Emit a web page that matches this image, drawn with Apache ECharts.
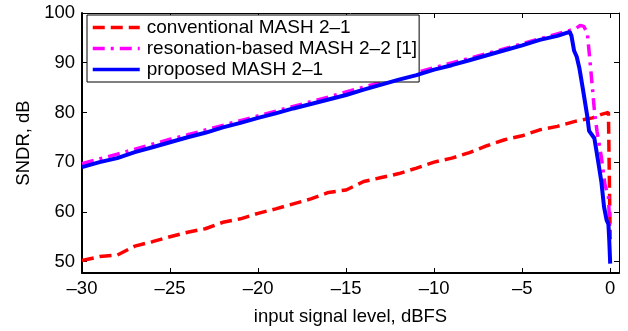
<!DOCTYPE html>
<html>
<head>
<meta charset="utf-8">
<script src="https://cdn.jsdelivr.net/npm/echarts@6/dist/echarts.min.js"></script>
<style>
	html, body { margin: 0; padding: 0; background: #fff; }
	#chart { width: 628px; height: 331px; }
</style>
</head>
<body>
<div id="chart"></div>
<script>
// series names
const seriesNames = ['conventional MASH 2–1', 'resonation-based MASH 2–2 [1]', 'proposed MASH 2–1']

// conventional MASH 2-1 (red dashed), [input dBFS, SNDR dB]
const conventional = [
	[-30, 50.2], [-29, 51.0], [-28, 51.3], [-27, 53.1], [-26, 54.0], [-25, 55.0],
	[-24, 55.9], [-23, 56.6], [-22, 57.9], [-21, 58.6], [-20, 59.7], [-19, 60.6],
	[-18, 61.6], [-17, 62.6], [-16, 63.9], [-15, 64.4], [-14, 66.1], [-13, 66.9],
	[-12, 67.7], [-11, 68.8], [-10, 70.0], [-9, 70.8], [-8, 71.9], [-7, 73.3],
	[-6, 74.5], [-5, 75.3], [-4, 76.5], [-3, 77.2], [-2, 78.2], [-1, 78.9],
	[-0.5, 79.6], [-0.1, 80.0], [0, 79.6], [0, 54.5],
]

// resonation-based MASH 2-2 [1] (magenta dash-dot)
const resonation = [
	[-30, 69.7], [-28, 71.6], [-26, 73.6], [-25, 74.6], [-24, 75.5], [-22, 77.4],
	[-20, 79.3], [-18, 81.2], [-16, 83.1], [-15, 84.1], [-14, 85.1], [-12, 87.0],
	[-10, 89.0], [-8, 90.9], [-6, 92.8], [-5, 93.8], [-4, 94.8], [-3, 95.8],
	[-2, 96.8], [-1.7, 97.5], [-1.5, 97.3], [-1.3, 96.0], [-1.1, 88.5], [-0.9, 80.5],
	[-0.75, 76.2], [-0.5, 71.0], [-0.3, 65.5], [-0.1, 63.0], [0, 55.0],
]

// proposed MASH 2-1 (blue solid)
const proposed = [
	[-30, 69.0], [-29, 70.0], [-28, 70.8], [-27, 72.0], [-26, 73.0], [-25, 74.0],
	[-24, 75.0], [-23, 75.9], [-22, 77.0], [-21, 77.9], [-20, 78.9], [-19, 79.8],
	[-18, 80.8], [-17, 81.7], [-16, 82.6], [-15, 83.5], [-14, 84.6], [-13, 85.6],
	[-12, 86.6], [-11, 87.5], [-10, 88.6], [-9, 89.5], [-8, 90.5], [-7, 91.5],
	[-6, 92.5], [-5, 93.5], [-4, 94.6], [-3, 95.4], [-2.3, 96.2], [-2.2, 95.4],
	[-2.05, 92.4], [-1.9, 91.2], [-1.75, 88.9], [-1.55, 84.7], [-1.3, 79.2],
	[-1.2, 76.3], [-0.9, 74.8], [-0.7, 70.5], [-0.5, 66.0], [-0.35, 61.0],
	[-0.2, 58.3], [-0.1, 57.5], [-0.05, 54.0], [0, 49.6],
]

// axis ranges and ticks
const xRange = [-30, 0.5]
const yRange = [47.7, 100]
const xTickStep = 5
const yTickStep = 10

const font = '"Liberation Sans", Arial, Helvetica, sans-serif'
const dash = (v) => String(v).replace('-', '–')

const xLabel = (v) => (Math.abs(v % xTickStep) < 1e-6 ? dash(v) : '')
const yLabel = (v) => (Math.abs(v % yTickStep) < 1e-6 ? String(v) : '')

const chart = echarts.init(document.getElementById('chart'))

const baseAxis = {
	type: 'value',
	splitLine: { show: false },
	axisLine: { onZero: false, lineStyle: { color: '#000', width: 2 } },
	axisTick: { inside: true, length: 5, lineStyle: { color: '#000', width: 1 } },
	axisLabel: { color: '#000', fontSize: 18.5, fontFamily: font },
	nameTextStyle: { color: '#000', fontSize: 18.5, fontFamily: font },
}

const option = {
	animation: false,
	backgroundColor: '#fff',
	grid: { left: 82, right: 9, top: 13, bottom: 54 },
	legend: {
		left: 87,
		top: 15,
		orient: 'vertical',
		padding: [3, 2, 3, 4],
		itemWidth: 47,
		itemHeight: 14,
		itemGap: 2,
		borderColor: '#000',
		borderWidth: 1,
		backgroundColor: '#fff',
		itemStyle: { opacity: 0 },
		lineStyle: { width: 3.5 },
		textStyle: { fontSize: 19, color: '#000', fontFamily: font, padding: [0, 0, 0, 2] },
		data: seriesNames,
	},
	xAxis: [
		{
			...baseAxis,
			min: xRange[0],
			max: xRange[1],
			interval: xTickStep,
			name: 'input signal level, dBFS',
			nameLocation: 'middle',
			nameGap: 34,
			axisLabel: { ...baseAxis.axisLabel, margin: 6, formatter: xLabel, showMaxLabel: false },
		},
		{
			...baseAxis,
			position: 'top',
			min: xRange[0],
			max: xRange[1],
			interval: xTickStep,
			axisLine: { onZero: false, lineStyle: { color: '#000', width: 1 } },
			axisLabel: { show: false },
		},
	],
	yAxis: [
		{
			...baseAxis,
			min: yRange[0],
			max: yRange[1],
			splitNumber: 5,
			name: 'SNDR, dB',
			nameLocation: 'middle',
			nameGap: 48,
			axisLabel: { ...baseAxis.axisLabel, margin: 7, formatter: yLabel },
		},
		{
			...baseAxis,
			position: 'right',
			min: yRange[0],
			max: yRange[1],
			splitNumber: 5,
			axisLine: { onZero: false, lineStyle: { color: '#000', width: 1 } },
			axisLabel: { show: false },
		},
	],
	series: [
		{
			name: seriesNames[0],
			type: 'line',
			data: conventional,
			showSymbol: false,
			symbol: 'none',
			lineStyle: { color: '#ff0000', width: 3.5, type: [12, 6] },
			itemStyle: { color: '#ff0000' },
			z: 2,
		},
		{
			name: seriesNames[1],
			type: 'line',
			data: resonation,
			showSymbol: false,
			symbol: 'none',
			lineStyle: { color: '#ff00ff', width: 3.5, type: [12, 6, 3, 6] },
			itemStyle: { color: '#ff00ff' },
			z: 3,
		},
		{
			name: seriesNames[2],
			type: 'line',
			data: proposed,
			showSymbol: false,
			symbol: 'none',
			lineStyle: { color: '#0000ff', width: 4 },
			itemStyle: { color: '#0000ff' },
			z: 4,
		},
	],
}

chart.setOption(option)
</script>
</body>
</html>
